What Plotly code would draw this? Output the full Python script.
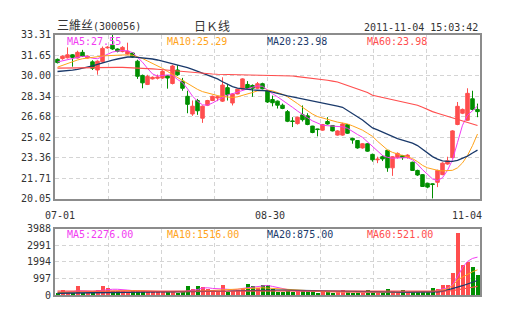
import plotly.graph_objects as go

# ---- trading days shown (2011-07-01 .. 2011-11-04) ----
month_days = [
    ("07", [1, 4, 5, 6, 7, 8, 11, 12, 13, 14, 15, 18, 19, 20, 21, 22, 25, 26, 27, 28, 29]),
    ("08", [1, 2, 3, 4, 5, 8, 9, 10, 11, 12, 15, 16, 17, 18, 19, 22, 23, 24, 25, 26, 29, 30, 31]),
    ("09", [1, 2, 5, 6, 7, 8, 9, 13, 14, 15, 16, 19, 20, 21, 22, 23, 26, 27, 28, 29, 30]),
    ("10", [10, 11, 12, 13, 14, 17, 18, 19, 20, 21, 24, 25, 26, 27, 28, 31]),
    ("11", [1, 2, 3, 4]),
]
dates = [f"{m}-{d:02d}" for m, days in month_days for d in days]
date_labels = ["07-01", "08-30", "11-04"]

# ---- daily prices ----
opens = [31.33, 31.39, 31.46, 31.70, 31.44, 31.90, 31.44, 31.13, 30.47, 31.13,
         32.26, 32.48, 32.17, 31.96, 31.77, 31.85, 31.18, 30.03, 29.30, 29.75,
         29.80, 29.82, 30.00, 29.38, 30.47, 29.57, 28.34, 26.91, 28.00, 26.57,
         27.62, 28.00, 28.20, 27.95, 29.04, 27.80, 28.53, 28.92, 29.30, 29.22,
         28.99, 29.36, 28.79, 28.08, 27.95, 27.62, 27.10, 26.35, 26.13, 26.84,
         26.76, 25.93, 25.70, 25.60, 26.30, 25.98, 25.20, 25.20, 26.05, 24.94,
         24.76, 24.16, 24.50, 23.64, 23.20, 23.45, 23.97, 22.55, 23.38, 23.54,
         23.38, 23.00, 22.34, 22.00, 21.30, 21.26, 21.38, 22.00, 22.86, 23.38,
         26.06, 26.97, 26.40, 28.14, 27.28]
highs = [31.40, 31.65, 32.30, 31.75, 32.03, 32.10, 31.65, 31.26, 31.25, 32.37,
         32.40, 33.30, 32.22, 32.40, 32.68, 31.90, 31.30, 30.10, 30.08, 29.95,
         30.10, 30.45, 30.05, 30.87, 30.87, 29.83, 28.79, 28.00, 28.13, 27.60,
         28.05, 28.40, 28.40, 29.88, 29.35, 28.60, 28.95, 29.80, 29.57, 29.30,
         29.50, 29.44, 28.85, 28.40, 28.00, 27.75, 27.23, 26.65, 26.70, 27.60,
         26.97, 25.95, 25.72, 26.10, 26.65, 26.00, 25.60, 26.20, 26.10, 24.98,
         24.80, 24.55, 24.55, 23.70, 23.45, 23.58, 24.00, 23.50, 23.80, 23.60,
         23.65, 23.05, 22.40, 22.05, 21.35, 21.30, 22.40, 23.00, 23.45, 25.60,
         27.88, 27.35, 28.99, 28.79, 27.75]
lows = [31.00, 31.30, 31.40, 30.74, 31.40, 31.55, 31.40, 30.47, 30.09, 31.05,
        32.20, 32.10, 31.90, 31.90, 31.70, 31.45, 29.75, 28.99, 29.25, 29.70,
        29.70, 29.75, 28.96, 29.30, 30.00, 28.79, 26.97, 26.76, 26.84, 26.19,
        27.55, 27.95, 27.95, 27.88, 28.00, 27.60, 28.50, 28.90, 28.95, 28.30,
        28.95, 28.90, 27.80, 27.53, 27.35, 27.30, 26.25, 25.85, 26.05, 26.30,
        26.00, 25.35, 25.10, 25.55, 26.05, 25.50, 25.15, 25.15, 25.30, 24.50,
        24.10, 24.10, 23.85, 23.05, 22.93, 23.10, 22.23, 21.90, 23.30, 23.20,
        23.30, 22.30, 21.90, 21.00, 20.90, 20.06, 20.99, 21.95, 22.80, 23.30,
        26.00, 26.90, 26.35, 27.20, 26.65]
closes = [31.07, 31.59, 31.70, 31.49, 31.90, 31.59, 31.59, 30.61, 31.18, 32.22,
          32.31, 32.17, 31.98, 32.30, 32.00, 31.52, 29.96, 29.43, 29.95, 29.88,
          29.90, 30.35, 29.82, 30.79, 30.08, 28.99, 27.69, 27.54, 27.17, 27.54,
          28.00, 28.34, 28.30, 29.25, 28.47, 28.53, 28.92, 29.75, 28.99, 28.99,
          29.36, 28.95, 27.88, 27.82, 27.62, 27.36, 26.32, 26.30, 26.65, 26.45,
          26.06, 25.41, 25.65, 26.06, 26.10, 25.54, 25.54, 26.10, 25.35, 24.80,
          24.16, 24.50, 23.90, 23.20, 23.25, 23.27, 22.55, 23.45, 23.72, 23.38,
          23.58, 22.34, 21.97, 21.04, 20.99, 21.20, 22.34, 22.93, 23.12, 25.54,
          27.53, 27.28, 28.58, 27.28, 27.10]

# ---- price moving averages ----
ma5 = [31.12, 31.22, 31.32, 31.42, 31.52, 31.58, 31.55, 31.42, 31.38, 31.55,
       31.78, 31.92, 32.00, 32.05, 32.02, 31.88, 31.50, 31.10, 30.60, 30.15,
       29.98, 30.03, 30.07, 30.05, 29.70, 29.45, 28.95, 28.35, 27.95, 27.65,
       27.62, 27.80, 28.00, 28.25, 28.45, 28.55, 28.66, 28.80, 28.94, 29.08,
       29.18, 29.15, 28.82, 28.55, 28.30, 28.02, 27.80, 27.45, 27.15, 26.85,
       26.60, 26.35, 26.15, 26.00, 25.96, 25.93, 25.90, 25.87, 25.75, 25.48,
       25.25, 25.02, 24.65, 24.30, 23.90, 23.55, 23.40, 23.33, 23.35, 23.38,
       23.38, 23.20, 22.85, 22.40, 22.00, 21.65, 21.52, 21.75, 22.35, 23.20,
       24.60, 26.00, 26.80, 27.20, 27.55]
ma10 = [30.70, 30.85, 31.00, 31.18, 31.28, 31.38, 31.45, 31.50, 31.55, 31.60,
        31.63, 31.66, 31.68, 31.70, 31.70, 31.66, 31.55, 31.40, 31.20, 31.00,
        30.82, 30.60, 30.35, 30.10, 29.85, 29.60, 29.35, 29.10, 28.90, 28.72,
        28.60, 28.50, 28.40, 28.32, 28.27, 28.25, 28.30, 28.40, 28.52, 28.65,
        28.78, 28.84, 28.84, 28.78, 28.66, 28.50, 28.30, 28.05, 27.75, 27.45,
        27.15, 26.90, 26.70, 26.58, 26.45, 26.35, 26.25, 26.18, 26.10, 25.95,
        25.80, 25.60, 25.35, 25.10, 24.70, 24.35, 24.00, 23.80, 23.65, 23.55,
        23.45, 23.30, 23.05, 22.75, 22.55, 22.42, 22.35, 22.30, 22.30, 22.35,
        22.55, 22.95, 23.55, 24.35, 25.29]
ma20 = [30.35, 30.37, 30.40, 30.46, 30.52, 30.60, 30.68, 30.80, 30.92, 31.05,
        31.16, 31.26, 31.36, 31.45, 31.52, 31.53, 31.50, 31.46, 31.42, 31.36,
        31.28, 31.18, 31.08, 30.97, 30.87, 30.77, 30.66, 30.52, 30.36, 30.19,
        30.05, 29.90, 29.75, 29.52, 29.30, 29.12, 29.00, 28.94, 28.90, 28.86,
        28.83, 28.80, 28.78, 28.68, 28.56, 28.45, 28.38, 28.30, 28.22, 28.15,
        28.06, 27.97, 27.88, 27.80, 27.71, 27.62, 27.54, 27.45, 27.20, 26.90,
        26.65, 26.42, 26.10, 25.78, 25.62, 25.45, 25.25, 25.05, 24.92, 24.80,
        24.68, 24.55, 24.35, 24.05, 23.75, 23.46, 23.25, 23.12, 23.08, 23.07,
        23.15, 23.30, 23.50, 23.75, 23.98]
ma60 = [30.62, 30.63, 30.64, 30.65, 30.65, 30.66, 30.66, 30.67, 30.67, 30.67,
        30.68, 30.68, 30.68, 30.68, 30.67, 30.66, 30.65, 30.62, 30.59, 30.56,
        30.53, 30.49, 30.46, 30.43, 30.40, 30.36, 30.32, 30.28, 30.24, 30.20,
        30.17, 30.14, 30.12, 30.11, 30.10, 30.10, 30.09, 30.09, 30.08, 30.08,
        30.07, 30.07, 30.06, 30.06, 30.05, 30.04, 30.02, 29.98, 29.93, 29.89,
        29.85, 29.81, 29.77, 29.70, 29.64, 29.57, 29.50, 29.35, 29.20, 29.07,
        28.94, 28.80, 28.65, 28.42, 28.33, 28.24, 28.14, 28.05, 27.97, 27.88,
        27.79, 27.71, 27.62, 27.45, 27.25, 27.10, 26.97, 26.84, 26.71, 26.58,
        26.45, 26.32, 26.19, 26.08, 25.98]
price_ma_labels = ["MA5:27.55", "MA10:25.29", "MA20:23.98", "MA60:23.98"]

# ---- daily volume (lots) and its moving averages ----
volumes = [140, 330, 230, 160, 560, 130, 170, 130, 300, 560,
           450, 260, 260, 250, 215, 260, 250, 270, 240, 230,
           240, 250, 230, 220, 150, 190, 570, 370, 590, 480,
           390, 310, 290, 620, 210, 290, 310, 470, 700, 570,
           420, 640, 600, 360, 190, 220, 280, 190, 330, 300,
           300, 270, 170, 190, 240, 170, 270, 300, 270, 140,
           200, 190, 300, 200, 180, 160, 400, 280, 220, 330,
           230, 200, 210, 240, 200, 440, 390, 600, 600, 1350,
           3720, 1830, 2030, 1730, 1220]
vol_ma5 = [120, 140, 180, 200, 260, 270, 240, 220, 250, 290,
           340, 350, 350, 340, 300, 270, 250, 240, 230, 220,
           210, 205, 200, 200, 190, 190, 250, 290, 330, 420,
           440, 400, 370, 370, 350, 330, 340, 400, 440, 480,
           520, 560, 580, 520, 460, 380, 310, 270, 250, 240,
           230, 220, 210, 200, 190, 180, 170, 170, 170, 165,
           160, 160, 160, 160, 160, 165, 170, 175, 175, 175,
           175, 175, 170, 170, 175, 200, 260, 380, 420, 600,
           1100, 1650, 2020, 2200, 2276]
vol_ma10 = [150, 160, 170, 180, 200, 210, 210, 215, 220, 230,
            260, 270, 275, 280, 280, 275, 270, 265, 255, 240,
            220, 200, 190, 185, 185, 190, 200, 215, 230, 260,
            290, 310, 330, 340, 350, 360, 370, 380, 400, 420,
            430, 440, 420, 400, 380, 360, 330, 300, 280, 260,
            240, 220, 210, 200, 195, 190, 185, 180, 175, 172,
            170, 168, 166, 165, 165, 165, 168, 170, 172, 175,
            175, 175, 178, 180, 185, 200, 240, 300, 380, 560,
            900, 1080, 1260, 1400, 1516]
vol_ma20 = [110, 115, 120, 125, 130, 140, 150, 160, 170, 175,
            180, 185, 190, 190, 195, 195, 200, 200, 200, 200,
            200, 200, 200, 200, 198, 196, 195, 195, 196, 200,
            205, 210, 220, 230, 240, 250, 260, 270, 280, 290,
            300, 300, 300, 300, 300, 295, 290, 285, 280, 275,
            265, 255, 245, 235, 225, 215, 205, 200, 195, 190,
            185, 182, 180, 178, 176, 175, 175, 175, 175, 175,
            175, 175, 175, 176, 178, 185, 200, 230, 300, 380,
            480, 560, 650, 750, 875]
vol_ma60 = [240, 240, 240, 240, 239, 239, 238, 238, 237, 237,
            236, 236, 235, 235, 234, 234, 233, 233, 232, 232,
            231, 231, 230, 230, 229, 229, 229, 230, 230, 231,
            232, 233, 234, 235, 236, 237, 238, 239, 240, 241,
            242, 243, 244, 244, 244, 243, 242, 241, 240, 239,
            238, 237, 236, 235, 234, 233, 232, 231, 230, 229,
            228, 227, 226, 225, 224, 223, 222, 222, 222, 222,
            222, 222, 222, 223, 224, 226, 229, 234, 250, 270,
            330, 370, 420, 470, 521]
vol_ma_labels = ["MA5:2276.00", "MA10:1516.00", "MA20:875.00", "MA60:521.00"]

# ---- axis ticks ----
price_ticks = [20.05, 21.71, 23.36, 25.02, 26.68, 28.34, 30.00, 31.65, 33.31]
volume_ticks = [0, 997, 1994, 2991, 3988]

# ---- styling ----
RED = "#ff4e4e"
GREEN = "#008f00"
MA_COLORS = ["#f23cf2", "#ffa31a", "#1b3a6b", "#ff4e4e"]
MA_WIDTHS = [1, 1, 1.3, 1.1]
GRID = "#d4d4d4"
FRAME = "#8c8c8c"
TEXT = "#333333"
MONO = "DejaVu Sans Mono, monospace"

W, H = 505, 330
PLOT_L, PLOT_R = 55, 480
MAIN_T, MAIN_B = 30, 200
VOL_T, VOL_B = 231, 300

x = list(range(len(dates)))
n = len(x)

fig = go.Figure()

fig.add_trace(go.Candlestick(
    x=x, open=opens, high=highs, low=lows, close=closes,
    increasing=dict(line=dict(color=RED, width=1), fillcolor=RED),
    decreasing=dict(line=dict(color=GREEN, width=1), fillcolor=GREEN),
    whiskerwidth=0, showlegend=False, hoverinfo="skip",
    xaxis="x", yaxis="y",
))
for series, color, width in zip([ma5, ma10, ma20, ma60], MA_COLORS, MA_WIDTHS):
    fig.add_trace(go.Scatter(
        x=x, y=series, mode="lines", line=dict(color=color, width=width),
        showlegend=False, hoverinfo="skip", xaxis="x", yaxis="y",
    ))

bar_colors = [RED if c >= o else GREEN for o, c in zip(opens, closes)]
fig.add_trace(go.Bar(
    x=x, y=volumes, width=0.8, marker=dict(color=bar_colors, line=dict(width=0)),
    showlegend=False, hoverinfo="skip", xaxis="x2", yaxis="y2",
))
for series, color, width in zip([vol_ma5, vol_ma10, vol_ma20, vol_ma60], MA_COLORS, MA_WIDTHS):
    fig.add_trace(go.Scatter(
        x=x, y=series, mode="lines", line=dict(color=color, width=width),
        showlegend=False, hoverinfo="skip", xaxis="x2", yaxis="y2",
    ))

x_domain = [PLOT_L / W, PLOT_R / W]
v_grid = [-0.5 + n * k / 8 for k in range(1, 8)]

common_x = dict(
    domain=x_domain, range=[-0.5, n - 0.5], tickvals=v_grid, showticklabels=False,
    showgrid=True, gridcolor=GRID, griddash="4px,3px", gridwidth=1,
    showline=True, mirror=True, linecolor=FRAME, linewidth=2,
    zeroline=False, ticks="", fixedrange=True,
)
common_y = dict(
    showgrid=True, gridcolor=GRID, griddash="4px,3px", gridwidth=1,
    showline=True, mirror=True, linecolor=FRAME, linewidth=2,
    zeroline=False, ticks="", fixedrange=True,
    tickfont=dict(family=MONO, size=10, color=TEXT),
)

fig.update_layout(
    width=W, height=H,
    margin=dict(l=0, r=0, t=0, b=0),
    paper_bgcolor="white", plot_bgcolor="white",
    boxgap=0.12, boxgroupgap=0.2,
    bargap=0,
    xaxis=dict(common_x, anchor="y", rangeslider=dict(visible=False)),
    yaxis=dict(common_y, domain=[1 - MAIN_B / H, 1 - MAIN_T / H],
               range=[price_ticks[0], price_ticks[-1]],
               tickvals=price_ticks, ticktext=[f"{t:.2f}" for t in price_ticks]),
    xaxis2=dict(common_x, anchor="y2"),
    yaxis2=dict(common_y, domain=[1 - VOL_B / H, 1 - VOL_T / H],
                range=[volume_ticks[0], volume_ticks[-1]],
                tickvals=volume_ticks, ticktext=[str(t) for t in volume_ticks]),
)

annotations = []
# header line
annotations.append(dict(
    text="三維丝<span style='font-size:10px'>(300056)</span>",
    xref="paper", yref="paper", x=PLOT_L / W, y=1 - 20.5 / H,
    xanchor="left", yanchor="middle", showarrow=False,
    font=dict(family="DejaVu Sans Mono, Noto Sans CJK SC", size=12, color=TEXT),
))
annotations.append(dict(
    text="日Ｋ线", xref="paper", yref="paper", x=212 / W, y=1 - 20.5 / H,
    xanchor="center", yanchor="middle", showarrow=False,
    font=dict(family="Noto Sans CJK SC", size=12, color=TEXT),
))
annotations.append(dict(
    text="2011-11-04 15:03:42", xref="paper", yref="paper", x=PLOT_R / W, y=1 - 22 / H,
    xanchor="right", yanchor="middle", showarrow=False,
    font=dict(family=MONO, size=10, color=TEXT),
))
# moving-average readouts inside each panel
for k, (plabel, vlabel, color) in enumerate(zip(price_ma_labels, vol_ma_labels, MA_COLORS)):
    xpos = (PLOT_L + 10 + 100 * k) / W
    annotations.append(dict(
        text=plabel, xref="paper", yref="paper", x=xpos, y=1 - 37 / H,
        xanchor="left", yanchor="middle", showarrow=False,
        font=dict(family=MONO, size=10, color=color),
    ))
    annotations.append(dict(
        text=vlabel, xref="paper", yref="paper", x=xpos, y=1 - 237 / H,
        xanchor="left", yanchor="middle", showarrow=False,
        font=dict(family=MONO, size=10, color=color),
    ))
# date labels under the price panel
for lbl in date_labels:
    idx = dates.index(lbl)
    last = idx == n - 1
    annotations.append(dict(
        text=lbl, xref="x", yref="paper", x=idx, y=1 - 217 / H,
        xanchor="right" if last else "center", xshift=6 if last else 2,
        yanchor="middle", showarrow=False,
        font=dict(family=MONO, size=10, color=TEXT),
    ))
fig.update_layout(annotations=annotations)

fig.write_html("out.html")
